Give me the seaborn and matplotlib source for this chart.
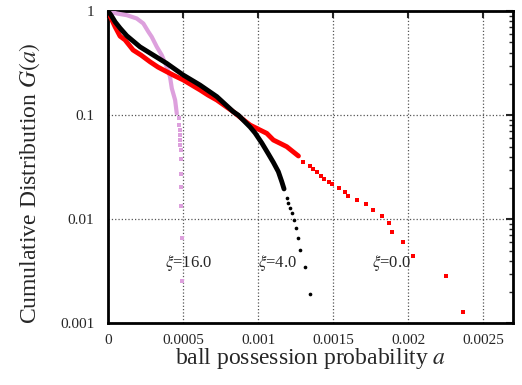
import numpy as np
import matplotlib.pyplot as plt
import seaborn as sns

# xi = 0.0 (red squares): dense part and sparse tail
red_a = [0, 0.00002, 0.000047, 0.00008, 0.000113, 0.000167, 0.00022, 0.00028, 0.000333,
         0.000391, 0.000447, 0.000502, 0.000558, 0.000613, 0.000667, 0.000725, 0.00078,
         0.000835, 0.000887, 0.000947, 0.001, 0.001058, 0.001102, 0.001147, 0.001191,
         0.001235, 0.001269]
red_g = [1.0, 0.857, 0.707, 0.575, 0.53, 0.423, 0.378, 0.326, 0.290,
         0.262, 0.238, 0.218, 0.195, 0.175, 0.156, 0.140, 0.123,
         0.108, 0.094, 0.0805, 0.0737, 0.067, 0.0578, 0.0537, 0.0499,
         0.0444, 0.0406]
red_tail_a = [0.001302, 0.001347, 0.001369, 0.001391, 0.00142, 0.001442, 0.001475, 0.001495,
              0.001542, 0.00158, 0.0016, 0.001658, 0.00172, 0.001769, 0.001829, 0.001871,
              0.001893, 0.001965, 0.002035, 0.002253, 0.002369]
red_tail_g = [0.0352, 0.0325, 0.0303, 0.0282, 0.0261, 0.0246, 0.0230, 0.0217,
              0.0201, 0.0185, 0.0169, 0.0154, 0.0139, 0.0123, 0.0108, 0.00918,
              0.00762, 0.00603, 0.00448, 0.00288, 0.00128]

# xi = 4.0 (black circles)
blk_a = [0, 0.00002, 0.000047, 0.00008, 0.000125, 0.000213, 0.000302, 0.000391, 0.000502,
         0.000613, 0.000725, 0.000835, 0.000869, 0.000947, 0.00098, 0.001025, 0.001069,
         0.001102, 0.001135, 0.001158, 0.001173]
blk_g = [1.0, 0.915, 0.789, 0.687, 0.58, 0.454, 0.378, 0.315, 0.243,
         0.195, 0.151, 0.108, 0.100, 0.077, 0.0675, 0.0541, 0.0424,
         0.0352, 0.0287, 0.0230, 0.0196]
blk_tail_a = [0.001191, 0.001202, 0.001213, 0.001225, 0.00124, 0.001253, 0.001267,
              0.00128, 0.001311, 0.001347]
blk_tail_g = [0.01594, 0.01446, 0.01295, 0.01144, 0.0098, 0.00822, 0.00663,
              0.00508, 0.00349, 0.00192]

# xi = 16.0 (violet)
vio_a = [0, 0.000058, 0.000125, 0.000191, 0.000235, 0.000269, 0.000291, 0.000325,
         0.000358, 0.000391, 0.000413, 0.000425, 0.000447, 0.000458]
vio_g = [1.0, 0.950, 0.915, 0.851, 0.762, 0.633, 0.567, 0.454,
         0.378, 0.292, 0.234, 0.181, 0.140, 0.104]
vio_tail_a = [0.000473, 0.000476, 0.000478, 0.00048, 0.00048, 0.000482, 0.000484,
              0.000486, 0.000487, 0.000488, 0.000489, 0.00049, 0.000491]
vio_tail_g = [0.0934, 0.0805, 0.0720, 0.0645, 0.0578, 0.0518, 0.0463,
              0.0377, 0.0273, 0.0203, 0.01353, 0.00659, 0.00256]

xi_labels = [r'$\xi$=16.0', r'$\xi$=4.0', r'$\xi$=0.0']
xi_label_a = [0.00054, 0.00113, 0.00189]
xi_label_g = [0.0038, 0.0038, 0.0038]

x_ticks = [0, 0.0005, 0.001, 0.0015, 0.002, 0.0025]
x_ticklabels = ['0', '0.0005', '0.001', '0.0015', '0.002', '0.0025']
y_ticks = [0.001, 0.01, 0.1, 1]
y_ticklabels = ['0.001', '0.01', '0.1', '1']

sns.set_style('white')
plt.rcParams['font.family'] = ['Liberation Serif', 'DejaVu Serif']
plt.rcParams['mathtext.fontset'] = 'stix'

fig = plt.figure(figsize=(5.22, 3.85), dpi=100)
ax = fig.add_axes([0.207, 0.160, 0.776, 0.811])

RED = '#ff0000'
VIO = '#dda0dd'

# dense parts are drawn as a thick band, sparse tails as separate markers
sns.lineplot(x=vio_a, y=vio_g, ax=ax, color=VIO, linewidth=3.0, sort=False,
             solid_capstyle='round', zorder=3)
sns.scatterplot(x=vio_tail_a, y=vio_tail_g, ax=ax, color=VIO, marker='s', s=7,
                linewidth=0, zorder=3)

sns.lineplot(x=red_a, y=red_g, ax=ax, color=RED, linewidth=3.5, sort=False,
             solid_capstyle='round', zorder=4)
sns.scatterplot(x=red_tail_a, y=red_tail_g, ax=ax, color=RED, marker='s', s=10,
                linewidth=0, zorder=4)

sns.lineplot(x=blk_a, y=blk_g, ax=ax, color='black', linewidth=3.5, sort=False,
             solid_capstyle='round', zorder=5)
sns.scatterplot(x=blk_tail_a, y=blk_tail_g, ax=ax, color='black', marker='o', s=7,
                linewidth=0, zorder=5)

for txt, xa, yg in zip(xi_labels, xi_label_a, xi_label_g):
    ax.text(xa, yg, txt, ha='center', va='center', fontsize=12, zorder=6)

ax.set_yscale('log')
ax.set_xlim(0, 0.0027)
ax.set_ylim(0.001, 1)
ax.set_xticks(x_ticks)
ax.set_xticklabels(x_ticklabels)
ax.set_yticks(y_ticks)
ax.set_yticklabels(y_ticklabels)

ax.grid(True, which='major', linestyle=':', color='#555555', linewidth=0.9)
ax.tick_params(which='both', direction='in', top=True, right=True, labelsize=11)
ax.tick_params(which='major', length=5, width=1.5)
ax.tick_params(axis='y', which='major', pad=10)
ax.tick_params(axis='x', which='major', pad=7.5)
ax.tick_params(which='minor', length=3, width=1.0)
for sp in ax.spines.values():
    sp.set_linewidth(2.0)
    sp.set_color('black')

ax.set_xlabel('ball possession probability $a$', fontsize=17)
ax.set_ylabel('Cumulative Distribution $G(a)$', fontsize=17)
ax.xaxis.set_label_coords(0.5, -0.072)
ax.yaxis.set_label_coords(-0.163, 0.45)

fig.savefig('out.png', dpi=100)
plt.close(fig)
